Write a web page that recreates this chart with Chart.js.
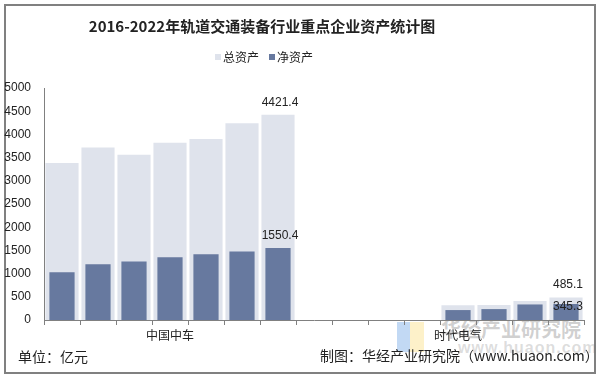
<!DOCTYPE html>
<html lang="zh">
<head>
  <meta charset="UTF-8">
  <title>2016-2022年轨道交通装备行业重点企业资产统计图</title>
  <script src="https://cdn.jsdelivr.net/npm/chart.js"></script>
  <style>
    html, body { margin: 0; padding: 0; background: #fff; }
    body { width: 597px; height: 376px; position: relative; overflow: hidden;
      font-family: "Noto Sans CJK SC", "Liberation Sans", sans-serif; color: #222; }
    .frame { position: absolute; left: 4px; top: 4px; width: 588px; height: 366px; border: 2px solid #808080; }
    .wrap { position: absolute; left: 0; top: 0; width: 597px; height: 376px; }
    .title { position: absolute; top: 16px; left: 0; width: 524px; text-align: center;
      font-size: 15px; font-weight: bold; line-height: 20px; color: #222; }
    .legend { position: absolute; top: 49px; left: 0; width: 528px; text-align: center; font-size: 12px; line-height: 16px; }
    .legend span { display: inline-block; margin: 0 5px; }
    .legend i { display: inline-block; width: 6px; height: 6px; margin-right: 2px; vertical-align: 2px; }
    .foot { position: absolute; font-size: 14px; line-height: 18px; color: #222; }
    .wm { position: absolute; color: rgba(120,120,120,0.35); font-weight: bold; }
    .logo { position: absolute; }
  </style>
</head>
<body>
  <div class="frame"></div>
  <div class="logo" style="left:397px;top:322px;width:13px;height:30px;background:rgba(120,170,230,0.45)"></div>
  <div class="logo" style="left:410px;top:322px;width:14px;height:30px;background:rgba(250,220,120,0.4)"></div>
  <div class="wm" style="left:441px;top:317px;font-size:20px;line-height:24px;">华经产业研究院</div>
  <div class="wm" style="left:458px;top:340px;font-size:16px;line-height:16px;font-family:'Liberation Sans';color:rgba(120,120,120,0.25);letter-spacing:1px;">www.huaon.com</div>
  <div class="wrap"><canvas id="chart" width="597" height="376"></canvas></div>
  <div class="title">2016-2022年轨道交通装备行业重点企业资产统计图</div>
  <div class="legend"><span><i style="background:#dfe3ec"></i>总资产</span><span><i style="background:#67799f"></i>净资产</span></div>
  <div class="foot" style="left:18px;top:347px;">单位：亿元</div>
  <div class="foot" style="left:320px;top:346px;">制图：华经产业研究院（www.huaon.com）</div>

  <script>
    const companies = ['中国中车', '时代电气'];
    const years = ['2016', '2017', '2018', '2019', '2020', '2021', '2022'];
    const totalCRRC = [3383, 3720, 3560, 3820, 3900, 4240, 4421.4];
    const netCRRC = [1030, 1203, 1262, 1353, 1417, 1474, 1550.4];
    const totalTE = [null, null, null, 320, 322, 412, 485.1];
    const netTE = [null, null, null, 214, 235, 335, 345.3];
    const yTicks = [0, 500, 1000, 1500, 2000, 2500, 3000, 3500, 4000, 4500, 5000];

    // 15 slots: 7 years, one empty gap, 7 years
    const labels = years.map(y => companies[0] + ' ' + y)
      .concat([''])
      .concat(years.map(y => companies[1] + ' ' + y));
    const totalData = totalCRRC.concat([null]).concat(totalTE);
    const netData = netCRRC.concat([null]).concat(netTE);
    const groupCenter = { 3: companies[0], 11: companies[1] };

    const valueLabels = {
      id: 'valueLabels',
      afterDatasetsDraw(chart) {
        const ctx = chart.ctx;
        ctx.save();
        ctx.font = '12px "Liberation Sans", Arial, sans-serif';
        ctx.fillStyle = '#222';
        ctx.textAlign = 'center';
        ctx.textBaseline = 'bottom';
        const marks = [[0, 6, -6], [1, 6, -6], [0, 14, -7], [1, 14, 9]];
        marks.forEach(([ds, i, dy]) => {
          const bar = chart.getDatasetMeta(ds).data[i];
          const v = chart.data.datasets[ds].data[i];
          if (bar && v != null) ctx.fillText(v.toFixed(1), bar.x + 2, bar.y + dy);
        });
        ctx.restore();
      }
    };

    new Chart(document.getElementById('chart'), {
      type: 'bar',
      data: {
        labels: labels,
        datasets: [
          { label: '总资产', data: totalData, backgroundColor: '#dfe3ec', order: 2,
            barPercentage: 0.92, categoryPercentage: 1 },
          { label: '净资产', data: netData, backgroundColor: '#67799f', order: 1,
            barPercentage: 0.7, categoryPercentage: 1 }
        ]
      },
      options: {
        responsive: false,
        animation: false,
        layout: { padding: { left: 0, right: 13, top: 88, bottom: 0 } },
        plugins: { legend: { display: false }, title: { display: false }, tooltip: { enabled: false } },
        datasets: { bar: { grouped: false } },
        scales: {
          x: {
            grid: { drawOnChartArea: false, drawTicks: true, tickLength: 5, color: '#808080', offset: true },
            border: { color: '#808080', width: 1 },
            ticks: {
              autoSkip: false, maxRotation: 0, padding: 3,
              color: '#222', font: { size: 12, family: '"Noto Sans CJK SC", sans-serif' },
              callback: (v, i) => groupCenter[i] || ''
            },
            afterFit: s => { s.height = 56; }
          },
          y: {
            min: 0, max: 5000,
            grid: { display: false },
            border: { color: '#808080', width: 1 },
            afterBuildTicks: s => { s.ticks = yTicks.map(v => ({ value: v })); },
            ticks: { padding: 5, color: '#222', font: { size: 12, family: '"Liberation Sans", Arial, sans-serif' },
              callback: v => String(v) },
            afterFit: s => { s.width = 44; }
          }
        }
      },
      plugins: [valueLabels]
    });
  </script>
</body>
</html>
